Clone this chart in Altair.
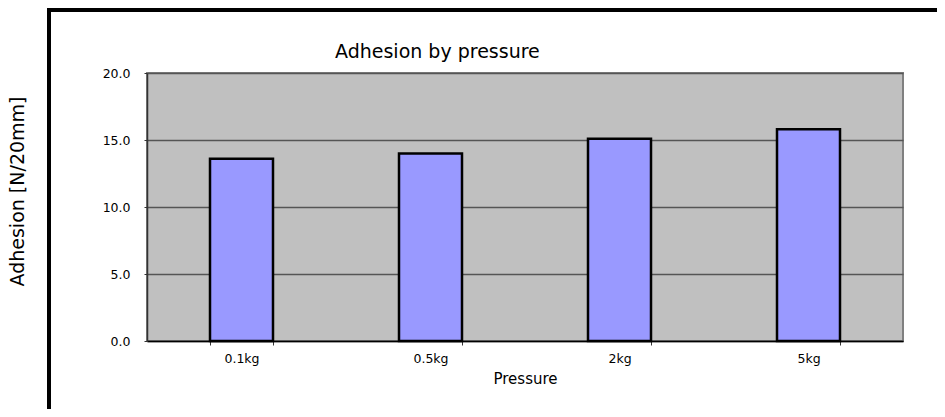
import altair as alt
import pandas as pd

categories = ["0.1kg", "0.5kg", "2kg", "5kg"]
values = [13.6, 14.0, 15.1, 15.8]
y_ticks = [0, 5, 10, 15, 20]
chart_title = ["Adhesion by pressure"]

df = pd.DataFrame({"Pressure": categories, "Adhesion": values})
title_df = pd.DataFrame({"t": chart_title})

FONT = "DejaVu Sans"

x = alt.X(
    "Pressure:N",
    sort=categories,
    title="Pressure",
    scale=alt.Scale(paddingInner=2 / 3, paddingOuter=1 / 3),
    axis=alt.Axis(
        labelAngle=0,
        labelFontSize=12.5,
        labelPadding=7,
        labelColor="black",
        titleFontSize=15,
        titleFontWeight="normal",
        titleColor="black",
        titlePadding=7,
        tickBand="extent",
        tickSize=4,
        tickColor="#333333",
        domainColor="black",
        domainWidth=1.5,
        grid=False,
    ),
)

y = alt.Y(
    "Adhesion:Q",
    title="Adhesion [N/20mm]",
    scale=alt.Scale(domain=[0, 20], nice=False),
    axis=alt.Axis(
        values=y_ticks,
        format=".1f",
        labelFontSize=12.5,
        labelPadding=14,
        labelColor="black",
        tickSize=3,
        tickColor="#333333",
        domainColor="#333333",
        domainWidth=1.5,
        grid=True,
        gridColor="#555555",
        gridWidth=1.5,
        titleFontSize=19,
        titleFontWeight="normal",
        titleColor="black",
        titleAngle=-90,
        titleX=-130,
        titleY=118,
        titleAlign="center",
        titleBaseline="middle",
    ),
)

bars = alt.Chart(df).mark_bar(
    color="#9999FF", stroke="black", strokeWidth=2.5
).encode(x=x, y=y)

frame = alt.Chart(title_df).mark_rect(
    fill=None, filled=False, stroke="black", strokeWidth=4, clip=False
).encode(
    x=alt.value(-98), x2=alt.value(805), y=alt.value(-63), y2=alt.value(345)
)

title = alt.Chart(title_df).mark_text(
    align="left", baseline="alphabetic", fontSize=19, font=FONT, color="black"
).encode(text="t:N", x=alt.value(188), y=alt.value(-15))

chart = (
    alt.layer(bars, frame, title)
    .properties(
        width=756,
        height=268,
        autosize=alt.AutoSizeParams(type="none"),
        padding={"left": 139, "top": 65, "right": 34, "bottom": 68},
    )
    .configure(font=FONT)
    .configure_view(fill="#C0C0C0", stroke="#808080", strokeWidth=2)
    .configure_axis(labelFont=FONT, titleFont=FONT)
)

chart.save("out.html", embed_options={"renderer": "svg", "actions": False})
